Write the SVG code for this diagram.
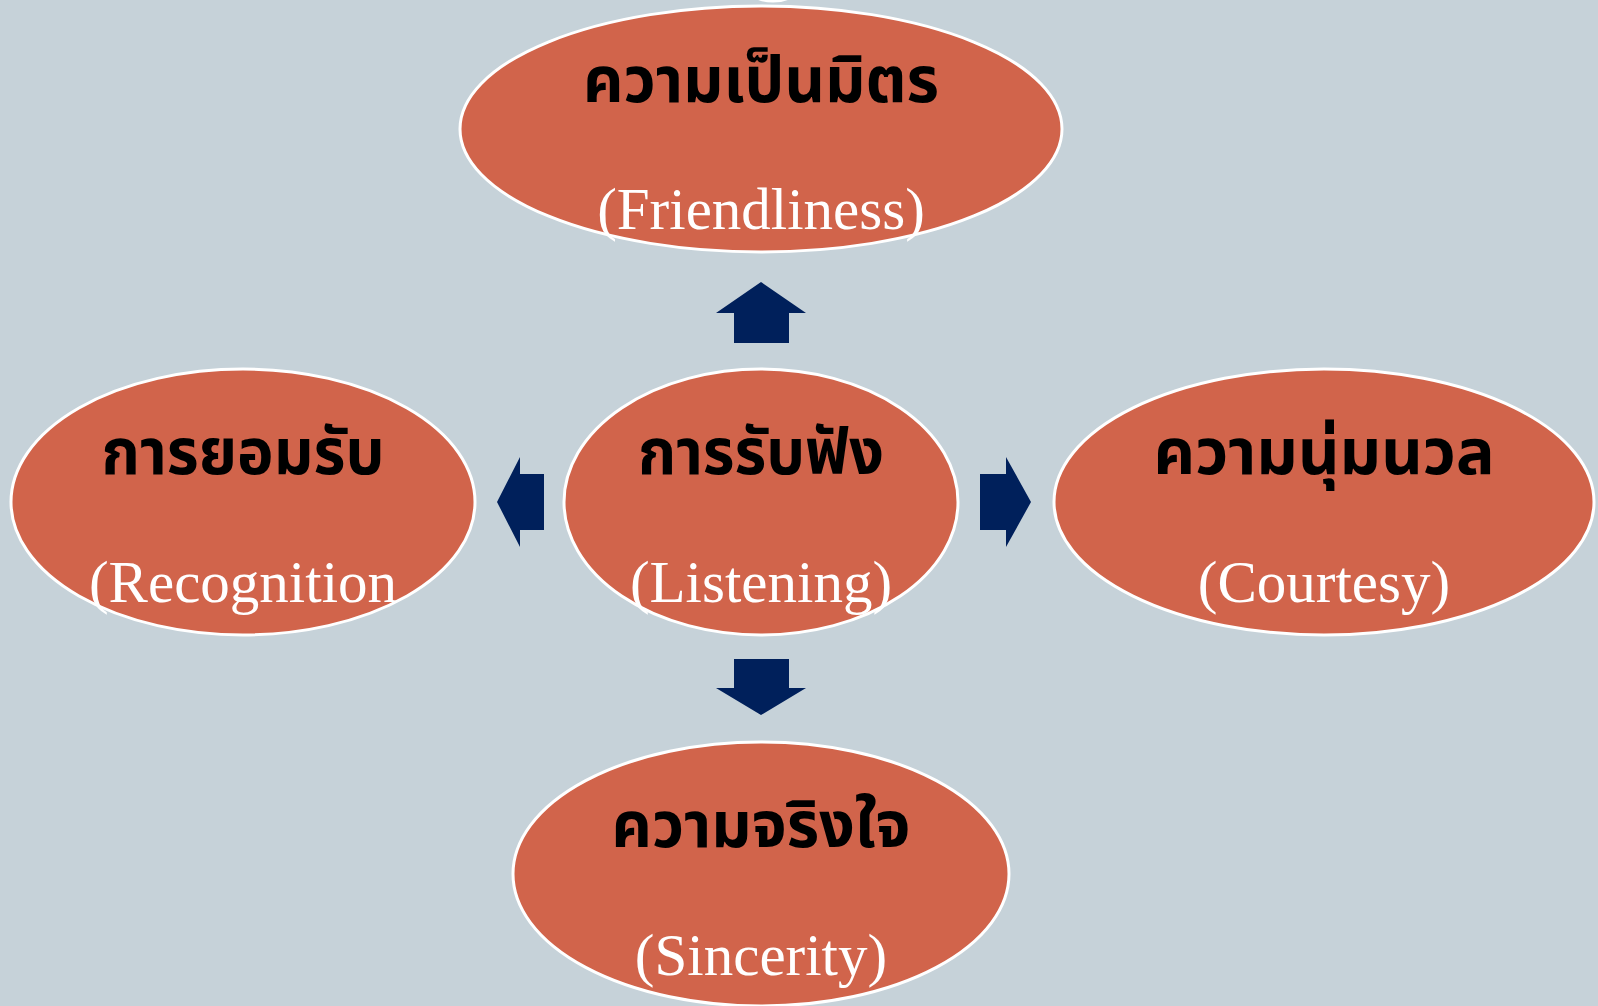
<svg xmlns="http://www.w3.org/2000/svg" width="1598" height="1006" viewBox="0 0 1598 1006">
<style>
.node{fill:#d1644b;stroke:#ffffff;stroke-width:3}
.th{font-family:"Noto Sans Thai","Noto Serif Thai","Noto Sans","DejaVu Sans",sans-serif;font-weight:bold;font-size:64px;fill:#000000;text-anchor:middle}
.en{font-family:"Liberation Serif",serif;font-size:59px;fill:#ffffff;text-anchor:middle}
.arr{fill:#00205b}
</style>
<rect x="0" y="0" width="1598" height="1006" fill="#c6d2d9"/>
<ellipse cx="773" cy="-9" rx="22" ry="10" fill="#c6d2d9" stroke="#ffffff" stroke-width="3"/>
<g id="connectors">
<polygon class="arr" points="761,282 806,313 789,313 789,343 734,343 734,313 716,313"/>
<polygon class="arr" points="761,715 806,688 789,688 789,659 734,659 734,688 716,688"/>
<polygon class="arr" points="497,502 520,457 520,474 544,474 544,530 520,530 520,547"/>
<polygon class="arr" points="1031,502 1006,457 1006,474 980,474 980,530 1006,530 1006,547"/>
</g>
<g id="node-friendliness">
<ellipse class="node" cx="761" cy="129" rx="301" ry="123"/>
<text class="th" x="761" y="102" textLength="356" lengthAdjust="spacingAndGlyphs">ความเป็นมิตร</text>
<text class="en" x="761" y="229">(Friendliness)</text>
</g>
<g id="node-listening">
<ellipse class="node" cx="761" cy="502" rx="197" ry="133"/>
<text class="th" x="761" y="474" textLength="246" lengthAdjust="spacingAndGlyphs">การรับฟัง</text>
<text class="en" x="761" y="602">(Listening)</text>
</g>
<g id="node-recognition">
<ellipse class="node" cx="243" cy="502" rx="232" ry="133"/>
<text class="th" x="243" y="474" textLength="283" lengthAdjust="spacingAndGlyphs">การยอมรับ</text>
<text class="en" x="243" y="602">(Recognition</text>
</g>
<g id="node-courtesy">
<ellipse class="node" cx="1324" cy="502" rx="270" ry="133"/>
<text class="th" x="1324" y="474" textLength="341" lengthAdjust="spacingAndGlyphs">ความนุ่มนวล</text>
<text class="en" x="1324" y="602">(Courtesy)</text>
</g>
<g id="node-sincerity">
<ellipse class="node" cx="761" cy="874" rx="248" ry="132"/>
<text class="th" x="761" y="847" textLength="299" lengthAdjust="spacingAndGlyphs">ความจริงใจ</text>
<text class="en" x="761" y="975">(Sincerity)</text>
</g>
</svg>
